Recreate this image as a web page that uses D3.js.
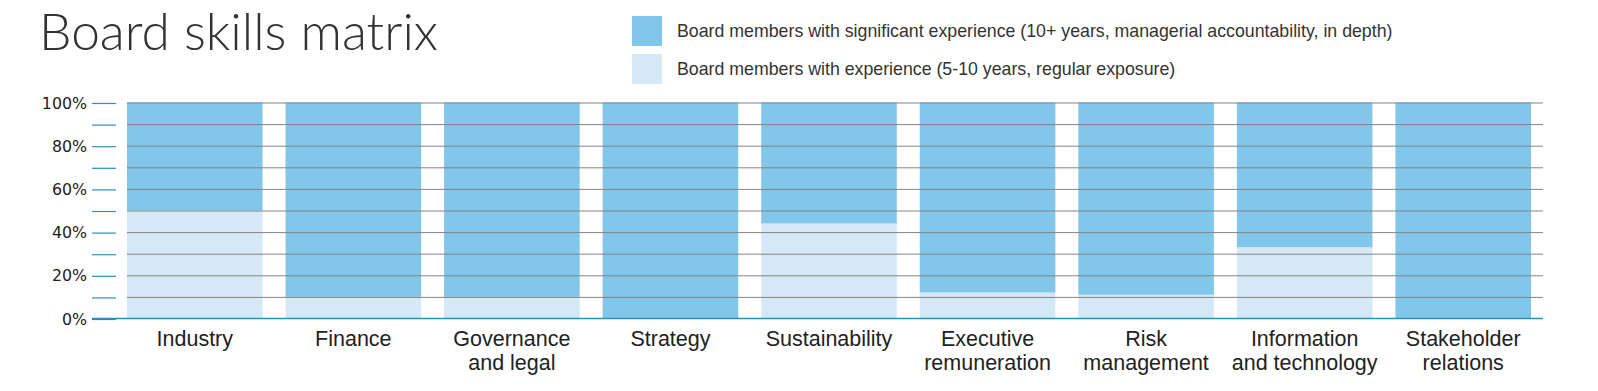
<!DOCTYPE html>
<html>
<head>
<meta charset="utf-8">
<script src="https://cdn.jsdelivr.net/npm/d3@7"></script>
<style>
  html, body { margin: 0; padding: 0; background: #fff; }
  svg { display: block; }
</style>
</head>
<body>
<svg id="chart" width="1598" height="391"></svg>
<script>
// ---- data ----
const categories = [
  "Industry", "Finance", "Governance\nand legal", "Strategy", "Sustainability",
  "Executive\nremuneration", "Risk\nmanagement", "Information\nand technology", "Stakeholder\nrelations"
];
const experience  = [50, 10, 10, 0, 44, 12, 11, 33, 0];   // 5-10 years (light)
const significant = [50, 90, 90, 100, 56, 88, 89, 67, 100]; // 10+ years (dark)
const yTicks = [0, 10, 20, 30, 40, 50, 60, 70, 80, 90, 100];
const yLabelTicks = [0, 20, 40, 60, 80, 100];
const legendLabels = [
  "Board members with significant experience (10+ years, managerial accountability, in depth)",
  "Board members with experience (5-10 years, regular exposure)"
];
const title = "Board skills matrix";

// ---- styles ----
const DARK = "#82c6e9", LIGHT = "#d5e8f5", TICKBLUE = "#2a8fbf", GRID = "#848484";

const svg = d3.select("#chart");

const rows = categories.map((c, i) => ({ cat: c, experience: experience[i], significant: significant[i] }));
const stack = d3.stack().keys(["experience", "significant"]);
const series = stack(rows);

const x = d3.scaleBand().domain(categories).range([127, 1531]).paddingInner(0.145).paddingOuter(0);
const y = d3.scaleLinear().domain([0, 100]).range([318.5, 102.5]);
const color = d3.scaleOrdinal().domain(["experience", "significant"]).range([LIGHT, DARK]);

// title
svg.append("text")
  .attr("x", 39).attr("y", 50)
  .attr("font-family", "Lato, 'Open Sans', sans-serif")
  .attr("font-weight", 300)
  .attr("font-size", 51.5)
  .attr("fill", "#333")
  .text(title);

// legend
const legend = svg.append("g");
legendLabels.forEach((lab, i) => {
  const g = legend.append("g").attr("transform", `translate(632,${16 + i * 38})`);
  g.append("rect").attr("width", 30).attr("height", 30).attr("fill", i === 0 ? DARK : LIGHT);
  g.append("text")
    .attr("x", 45).attr("y", 21)
    .attr("font-family", "'Liberation Sans', Arial, sans-serif")
    .attr("font-size", 17.75)
    .attr("fill", "#333")
    .text(lab);
});

// bars
svg.append("g").selectAll("g").data(series).join("g")
  .attr("fill", d => color(d.key))
  .selectAll("rect").data(d => d).join("rect")
  .attr("x", d => x(d.data.cat))
  .attr("width", x.bandwidth())
  .attr("y", d => y(d[1]))
  .attr("height", d => y(d[0]) - y(d[1]));

// gridlines
svg.append("g").selectAll("line").data(yTicks.filter(t => t > 0)).join("line")
  .attr("x1", 127).attr("x2", 1543)
  .attr("y1", d => y(d) + 0.5).attr("y2", d => y(d) + 0.5)
  .attr("stroke", GRID).attr("stroke-width", 1);

// baseline
svg.append("line")
  .attr("x1", 92).attr("x2", 1543)
  .attr("y1", y(0)).attr("y2", y(0))
  .attr("stroke", TICKBLUE).attr("stroke-width", 1.5);

// y axis
const yAxis = d3.axisLeft(y)
  .tickValues(yTicks)
  .tickSize(24)
  .tickPadding(5)
  .tickFormat(d => yLabelTicks.includes(d) ? d + "%" : "");
const ya = svg.append("g").attr("transform", "translate(116,0.5)").call(yAxis);
ya.select(".domain").remove();
ya.selectAll(".tick line").attr("stroke", TICKBLUE).attr("stroke-width", 1.2);
ya.selectAll(".tick text")
  .attr("font-family", "'DejaVu Sans', sans-serif")
  .attr("font-size", 15.8)
  .attr("fill", "#222");

// x labels
const xl = svg.append("g").selectAll("text").data(categories).join("text")
  .attr("x", d => x(d) + x.bandwidth() / 2)
  .attr("y", 346)
  .attr("text-anchor", "middle")
  .attr("font-family", "'Liberation Sans', Arial, sans-serif")
  .attr("font-size", 21.5)
  .attr("fill", "#222");
xl.selectAll("tspan").data(d => d.split("\n")).join("tspan")
  .attr("x", function () { return d3.select(this.parentNode).attr("x"); })
  .attr("dy", (d, i) => i === 0 ? 0 : 23.5)
  .text(d => d);
</script>
</body>
</html>
